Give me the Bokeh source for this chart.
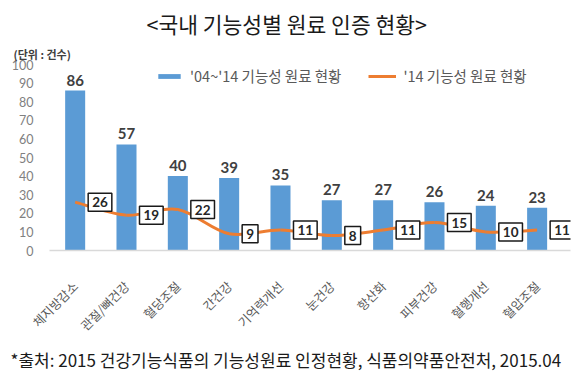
import math
from bokeh.plotting import figure
from bokeh.models import (Range1d, FixedTicker, Label, LabelSet, ColumnDataSource,
                          Legend, LegendItem, Title)
from bokeh.core.properties import value
from bokeh.embed import file_html
from bokeh.resources import INLINE

categories = ["체지방감소", "관절/뼈건강", "혈당조절", "간건강", "기억력개선",
              "눈건강", "항산화", "피부건강", "혈행개선", "혈압조절"]
total_04_14 = [86, 57, 40, 39, 35, 27, 27, 26, 24, 23]
recent_14 = [26, 19, 22, 9, 11, 8, 11, 15, 10, 11]
y_ticks = [0, 10, 20, 30, 40, 50, 60, 70, 80, 90, 100]

title_text = "<국내 기능성별 원료 인증 현황>"
unit_text = "(단위 : 건수)"
legend_bar = "'04~'14 기능성 원료 현황"
legend_line = "'14 기능성 원료 현황"
footer_text = "*출처: 2015 건강기능식품의 기능성원료 인정현황, 식품의약품안전처, 2015.04"

BLUE = "#5B9BD5"
ORANGE = "#ED7D31"
KR = "Noto Sans CJK KR"
NUM = "Lato"

idx = list(range(len(categories)))

p = figure(width=580, height=371, output_backend="svg", toolbar_location=None,
           title=None,
           x_range=Range1d(-0.5, 9.65), y_range=Range1d(0, 100),
           min_border_left=49, min_border_right=10, min_border_top=64, min_border_bottom=120)
p.outline_line_color = None
p.grid.visible = False
p.background_fill_color = "white"

# y axis
p.yaxis.ticker = FixedTicker(ticks=y_ticks)
p.yaxis.axis_line_color = None
p.yaxis.major_tick_line_color = None
p.yaxis.minor_tick_line_color = None
p.yaxis.major_label_text_font = NUM
p.yaxis.major_label_text_font_size = "12.5px"
p.yaxis.major_label_text_color = "#808080"
p.yaxis.major_label_standoff = 10

# x axis
p.xaxis.ticker = FixedTicker(ticks=idx)
p.xaxis.major_label_overrides = {i: c for i, c in zip(idx, categories)}
p.xaxis.major_label_orientation = math.pi / 4
p.xaxis.axis_line_color = "#D9D9D9"
p.xaxis.axis_line_width = 1.5
p.xaxis.major_tick_line_color = None
p.xaxis.minor_tick_line_color = None
p.xaxis.major_label_text_font = KR
p.xaxis.major_label_text_font_size = "12.5px"
p.xaxis.major_label_text_color = "#595959"
p.xaxis.major_label_standoff = 27

src = ColumnDataSource(dict(x=idx, total=total_04_14, recent=recent_14,
                            total_s=[str(v) for v in total_04_14],
                            recent_s=[str(v) for v in recent_14]))

bars = p.vbar(x="x", top="total", width=0.39, source=src, fill_color=BLUE, line_color=None)

# smoothed line (Catmull-Rom -> cubic bezier) through the data points
n = len(idx)
x0, y0, x1, y1, cx0, cy0, cx1, cy1 = [], [], [], [], [], [], [], []
for i in range(n - 1):
    pm = (idx[max(i - 1, 0)], recent_14[max(i - 1, 0)])
    pa = (idx[i], recent_14[i])
    pb = (idx[i + 1], recent_14[i + 1])
    pn = (idx[min(i + 2, n - 1)], recent_14[min(i + 2, n - 1)])
    x0.append(pa[0]); y0.append(pa[1]); x1.append(pb[0]); y1.append(pb[1])
    cx0.append(pa[0] + (pb[0] - pm[0]) / 6); cy0.append(pa[1] + (pb[1] - pm[1]) / 6)
    cx1.append(pb[0] - (pn[0] - pa[0]) / 6); cy1.append(pb[1] - (pn[1] - pa[1]) / 6)
p.bezier(x0=x0, y0=y0, x1=x1, y1=y1, cx0=cx0, cy0=cy0, cx1=cx1, cy1=cy1,
         line_color=ORANGE, line_width=3)
# single-point line renderer used only as the legend entry for the series
line_leg = p.line(x=idx[:1], y=recent_14[:1], line_color=ORANGE, line_width=3)

# bar value labels
bar_labels = LabelSet(x="x", y="total", text="total_s", source=src,
                      text_align="center", text_baseline="bottom", y_offset=5,
                      text_font=value(NUM), text_font_size=value("15px"),
                      text_font_style="bold", text_color="#404040")
p.add_layout(bar_labels)

# boxed line labels
p.text(x="x", y="recent", text="recent_s", source=src,
       text_align="left", text_baseline="middle", x_offset=13,
       text_font=value(NUM), text_font_size="13.5px", text_font_style="bold",
       text_color="#262626",
       background_fill_color="white", border_line_color="#1a1a1a",
       border_line_width=1.5, padding=4)

legend = Legend(items=[LegendItem(label=legend_bar, renderers=[bars]),
                       LegendItem(label=legend_line, renderers=[line_leg])],
                orientation="horizontal", location=(106, 164),
                glyph_width=28, glyph_height=6, label_standoff=7, spacing=27,
                padding=0, margin=0, border_line_color=None, background_fill_alpha=0,
                label_text_font=KR, label_text_font_size="14.5px", label_text_color="#595959")
p.add_layout(legend, "center")

# titles in side panels (first added = closest to the frame)
p.add_layout(Title(text=unit_text, align="left", offset=-36, standoff=5,
                   text_font=KR, text_font_size="11px", text_font_style="bold",
                   text_color="#404040"), "above")
p.add_layout(Title(text=title_text, align="left", offset=97, standoff=6,
                   text_font=KR, text_font_size="21.5px", text_font_style="normal",
                   text_color="#1a1a1a"), "above")
p.add_layout(Title(text=footer_text, align="left", offset=-39, standoff=0,
                   text_font=KR, text_font_size="17px", text_font_style="normal",
                   text_color="#1a1a1a"), "below")

open("out.html", "w").write(file_html(p, INLINE))
